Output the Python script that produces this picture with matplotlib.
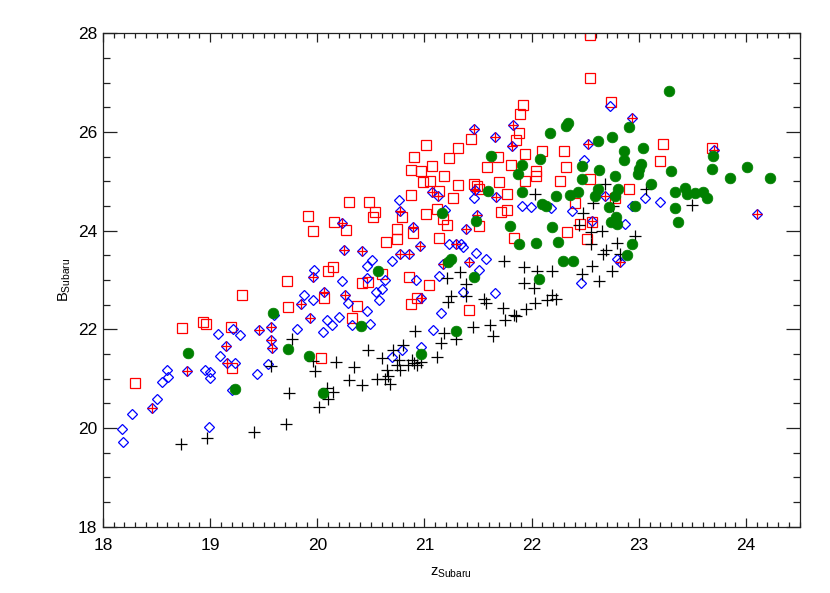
import matplotlib
matplotlib.use("Agg")
import matplotlib.pyplot as plt
from matplotlib.ticker import MultipleLocator

# ---- data ----
# black crosses
plus_x = [18.73, 18.97, 19.41, 19.71, 19.74, 19.76, 19.57, 19.96, 19.98, 20.17, 20.02, 20.10, 20.09, 20.15,
          20.30, 20.42, 20.34, 20.47, 20.56, 20.60, 20.65, 20.66, 20.68, 20.63, 20.71, 20.74, 20.76, 20.77,
          20.80, 20.85, 20.88, 20.90, 20.93, 20.97, 20.91, 21.12, 21.15, 21.18, 21.29, 21.21, 21.33, 21.39,
          21.22, 21.25, 21.39, 21.45, 21.56, 21.57, 21.61, 21.64, 21.73, 21.75, 21.84, 21.85, 21.95, 21.93,
          22.02, 22.03, 22.14, 22.19, 22.23, 22.19, 22.05, 22.57, 22.48, 22.44, 22.55, 22.66, 22.55, 22.69,
          22.67, 22.80, 22.82, 22.96, 22.56, 22.47, 22.63, 22.75, 23.50, 22.76, 22.68, 23.07, 22.03, 21.74,
          21.93]
plus_y = [19.68, 19.80, 19.92, 20.09, 20.71, 21.81, 21.25, 21.36, 21.16, 21.33, 20.42, 20.58, 20.81, 20.73,
          20.97, 20.87, 21.23, 21.58, 21.00, 21.41, 21.17, 21.06, 20.90, 21.00, 21.59, 21.27, 21.37, 21.17,
          21.68, 21.27, 21.37, 21.31, 21.27, 21.34, 21.96, 21.43, 21.72, 21.93, 21.80, 23.04, 23.16, 22.91,
          22.55, 22.67, 22.67, 22.05, 22.62, 22.53, 22.08, 21.86, 22.44, 22.18, 22.30, 22.28, 22.42, 22.94,
          22.84, 22.54, 22.59, 22.69, 22.62, 23.19, 23.19, 24.57, 24.35, 24.12, 23.97, 24.00, 23.73, 23.60,
          23.52, 23.76, 23.53, 23.90, 23.29, 23.12, 22.98, 23.18, 24.52, 24.50, 24.94, 24.84, 24.75, 23.39,
          23.26]

# green filled circles
dot_x = [18.79, 19.23, 19.59, 19.73, 19.92, 20.05, 20.41, 20.57, 20.97, 21.29, 21.46, 22.07, 21.16, 21.48,
         21.22, 21.25, 21.59, 21.91, 22.23, 22.36, 22.43, 22.10, 22.13, 22.59, 22.62, 22.72, 22.78, 21.80,
         22.19, 21.88, 22.04, 22.25, 22.74, 22.79, 22.80, 22.29, 22.39, 23.28, 22.34, 22.32, 22.17, 22.75,
         22.91, 22.62, 23.04, 22.86, 22.86, 23.02, 23.00, 22.99, 23.30, 21.62, 21.91, 21.87, 22.08, 22.47,
         22.47, 22.63, 22.78, 23.11, 23.34, 23.34, 23.37, 22.81, 22.96, 22.94, 22.89, 23.69, 23.68, 23.85,
         24.01, 24.22, 23.43, 23.45, 23.52, 23.60, 23.64]
dot_y = [21.52, 20.80, 22.33, 21.60, 21.47, 20.70, 22.07, 23.18, 21.51, 21.97, 23.07, 23.02, 24.35, 24.19,
         23.36, 23.43, 24.81, 24.79, 24.71, 24.73, 24.79, 24.55, 24.51, 24.71, 24.84, 24.47, 24.71, 24.10,
         24.07, 23.73, 23.75, 23.78, 24.18, 24.28, 24.14, 23.38, 23.39, 26.83, 26.18, 26.12, 25.97, 25.89,
         26.10, 25.82, 25.68, 25.62, 25.44, 25.35, 25.25, 25.15, 25.21, 25.52, 25.33, 25.15, 25.46, 25.31,
         25.04, 25.23, 25.11, 24.94, 24.79, 24.45, 24.17, 24.84, 24.50, 23.73, 23.50, 25.51, 25.26, 25.06,
         25.29, 25.06, 24.86, 24.74, 24.77, 24.79, 24.66]

# red open squares
sq_x = [18.30, 18.74, 18.93, 18.96, 19.19, 19.20, 19.30, 19.72, 19.73, 20.06, 20.03, 20.10, 20.15, 20.42,
        20.47, 20.60, 20.37, 20.32, 20.86, 21.04, 20.93, 20.87, 21.42, 20.30, 20.48, 20.54, 20.52, 20.16,
        20.27, 20.87, 20.79, 20.74, 20.74, 20.64, 21.01, 20.99, 21.05, 21.27, 21.31, 21.12, 21.21, 21.14,
        21.46, 21.01, 20.90, 21.07, 21.31, 21.43, 21.23, 20.87, 20.97, 21.18, 21.14, 19.91, 19.96, 20.89,
        22.54, 22.54, 22.74, 21.92, 21.89, 21.88, 21.85, 21.69, 21.58, 21.81, 21.94, 22.10, 22.30, 22.32,
        22.04, 22.04, 21.94, 21.70, 22.26, 22.54, 23.23, 23.20, 22.91, 21.49, 21.51, 21.77, 22.40, 22.78,
        21.77, 21.71, 21.17, 21.51, 22.45, 22.56, 22.33, 21.84, 22.52, 23.68]
sq_y = [20.92, 22.02, 22.15, 22.10, 22.05, 21.21, 22.69, 22.99, 22.46, 22.64, 21.41, 23.19, 23.26, 22.94,
        22.96, 23.13, 22.48, 22.24, 23.06, 22.90, 22.63, 22.52, 22.40, 24.59, 24.59, 24.37, 24.27, 24.18,
        24.02, 24.73, 24.27, 24.03, 23.83, 23.78, 24.34, 24.98, 25.01, 24.66, 24.93, 24.44, 24.11, 23.85,
        24.94, 25.74, 25.50, 25.31, 25.68, 25.86, 25.48, 25.23, 25.21, 25.10, 24.81, 24.29, 24.00, 23.95,
        27.97, 27.10, 26.61, 26.55, 26.37, 25.97, 25.84, 25.50, 25.30, 25.33, 25.55, 25.62, 25.62, 25.30,
        25.21, 25.10, 25.01, 24.98, 25.01, 25.04, 25.76, 25.41, 24.85, 24.91, 24.84, 24.75, 24.56, 24.66,
        24.42, 24.38, 24.24, 24.10, 24.13, 24.17, 23.97, 23.86, 23.83, 25.67]

# blue open diamonds
dia_x = [18.19, 18.18, 18.27, 18.50, 18.55, 18.60, 18.61, 18.99, 18.95, 19.00, 19.00, 19.07, 19.09, 19.21,
         19.28, 19.20, 19.23, 19.44, 19.54, 19.60, 19.81, 19.88, 19.96, 20.05, 20.09, 20.14, 20.20, 20.23,
         20.29, 20.46, 20.63, 20.55, 20.60, 20.58, 20.46, 20.32, 20.49, 20.92, 21.14, 21.36, 21.66, 21.15,
         21.08, 20.97, 20.79, 20.70, 20.76, 21.23, 21.34, 21.36, 21.19, 21.48, 20.51, 20.46, 20.70, 19.97,
         22.73, 22.49, 21.46, 21.91, 21.99, 22.18, 22.38, 23.06, 23.20, 22.94, 22.87, 21.57, 22.80, 22.46,
         21.51]
dia_y = [19.72, 19.99, 20.28, 20.59, 20.94, 21.17, 21.04, 20.03, 21.17, 21.14, 21.02, 21.91, 21.47, 22.01,
         21.88, 20.77, 21.31, 21.09, 21.29, 22.30, 22.01, 22.69, 22.59, 21.95, 22.18, 22.08, 22.25, 22.98,
         22.54, 23.04, 23.00, 22.75, 22.82, 22.60, 22.38, 22.08, 22.10, 23.00, 23.09, 22.75, 22.73, 22.34,
         21.98, 21.64, 21.58, 21.43, 24.62, 23.73, 23.73, 23.66, 24.42, 23.54, 23.41, 23.29, 23.38, 23.20,
         26.53, 25.43, 24.67, 24.51, 24.47, 24.45, 24.40, 24.67, 24.59, 24.50, 24.13, 23.43, 23.43, 22.94,
         23.21]

# blue diamonds that also carry a red cross
both_x = [18.46, 18.78, 19.15, 19.16, 19.46, 19.57, 19.57, 19.58, 19.85, 19.96, 19.93, 20.06, 20.26, 20.23,
          20.25, 20.42, 20.77, 20.89, 20.96, 20.77, 20.86, 21.07, 21.13, 21.29, 21.39, 21.42, 21.47, 20.97,
          21.46, 21.66, 21.83, 21.82, 22.94, 22.53, 21.67, 22.68, 22.56, 21.49, 23.70, 24.10, 22.82, 21.17]
both_y = [20.40, 21.16, 21.66, 21.32, 21.98, 22.05, 21.78, 21.63, 22.52, 23.07, 22.23, 22.75, 22.69, 24.16,
          23.61, 23.58, 24.39, 24.08, 23.68, 23.52, 23.52, 24.79, 24.71, 23.73, 24.03, 23.36, 24.82, 22.63,
          26.06, 25.90, 26.14, 25.72, 26.28, 25.75, 24.69, 24.71, 24.19, 24.32, 25.64, 24.34, 23.36, 23.33]


def main():
    plt.rcParams['font.family'] = ['Liberation Sans', 'DejaVu Sans']
    plt.rcParams['mathtext.fontset'] = 'custom'
    plt.rcParams['mathtext.rm'] = 'Liberation Sans'
    plt.rcParams['mathtext.it'] = 'Liberation Sans'

    fig = plt.figure(figsize=(8.3, 5.93), dpi=100)
    ax = fig.add_axes([0.1241, 0.1118, 0.8392, 0.832])

    ax.plot(sq_x, sq_y, 's', ms=7.7, mfc='none', mec='#ff0000', mew=0.9, zorder=2)
    ax.plot(dia_x, dia_y, 'D', ms=5.1, mfc='none', mec='#0000ff', mew=0.9, zorder=3)
    ax.plot(both_x, both_y, 'D', ms=5.1, mfc='none', mec='#0000ff', mew=0.9, zorder=3)
    ax.plot(both_x, both_y, '+', ms=7.2, mec='#ff0000', mew=0.9, zorder=4)
    ax.plot(plus_x, plus_y, '+', ms=8.2, mec='black', mew=0.9, zorder=4)
    ax.plot(dot_x, dot_y, 'o', ms=7.7, mfc='#008000', mec='#008000', mew=0.5, zorder=5)

    ax.set_xlim(18, 24.5)
    ax.set_ylim(18, 28)
    ax.xaxis.set_major_locator(MultipleLocator(1))
    ax.xaxis.set_minor_locator(MultipleLocator(0.1))
    ax.yaxis.set_major_locator(MultipleLocator(2))
    ax.yaxis.set_minor_locator(MultipleLocator(0.5))

    ax.tick_params(which='both', direction='in', top=True, right=True, width=0.9,
                   colors='#222222', labelsize=12.5, labelcolor='black')
    ax.tick_params(axis='x', which='major', length=6.8, pad=8)
    ax.tick_params(axis='x', which='minor', length=3.4)
    ax.tick_params(axis='y', which='major', length=10, pad=4)
    ax.tick_params(axis='y', which='minor', length=5)
    for sp in ax.spines.values():
        sp.set_linewidth(0.9)
        sp.set_color('#222222')

    ax.set_xlabel(r'z$_{\rm Subaru}$', fontsize=10.5, labelpad=9)
    ax.set_ylabel(r'B$_{\rm Subaru}$', fontsize=10.5, labelpad=4)

    fig.savefig('out.png', dpi=100, facecolor='white')


if __name__ == "__main__":
    main()
